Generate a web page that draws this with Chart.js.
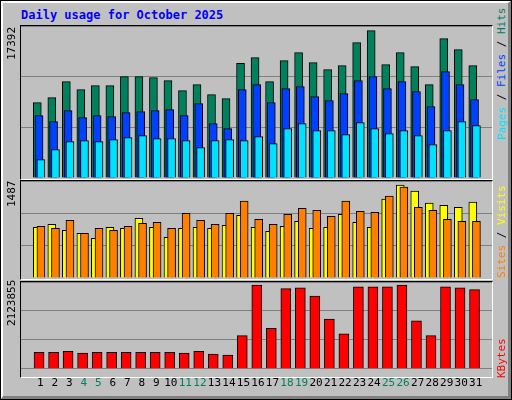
<!DOCTYPE html>
<html><head><meta charset="utf-8">
<script src="https://cdn.jsdelivr.net/npm/chart.js@4/dist/chart.umd.min.js"></script>
<style>
body{margin:0;background:#fff}
#wrap{position:relative;width:510px;height:398px;background:#C0C0C0;border:1px solid #000;overflow:hidden}
#wrap:before{content:"";position:absolute;left:0;top:0;right:0;bottom:0;border-top:2px solid #fff;border-left:2px solid #fff;border-right:3px solid #808080;border-bottom:3px solid #808080}
.cv{position:absolute}
.fr{position:absolute;border-left:1px solid #000;border-top:1px solid #000;border-right:1px solid #fff;border-bottom:1px solid #fff;box-sizing:border-box;pointer-events:none}
.t{position:absolute;font-family:"DejaVu Sans Mono",monospace;white-space:nowrap}
.rot{transform-origin:left top;transform:rotate(-90deg)}
</style></head><body>
<div id="wrap">
<div class="t" style="left:20px;top:7px;font-size:12px;font-weight:bold;color:#0000FF">Daily usage for October 2025</div>
<canvas id="c1" class="cv" style="left:20px;top:25px"></canvas>
<canvas id="c2" class="cv" style="left:20px;top:180px"></canvas>
<canvas id="c3" class="cv" style="left:20px;top:281px"></canvas>
<div class="fr" style="left:19px;top:24px;width:473px;height:155px"></div>
<div class="fr" style="left:19px;top:179px;width:473px;height:100px"></div>
<div class="fr" style="left:19px;top:280px;width:473px;height:97px"></div>
<div class="t rot" style="left:4px;top:59px;font-size:11px;color:#000">17392</div>
<div class="t rot" style="left:4px;top:206px;font-size:11px;color:#000">1487</div>
<div class="t rot" style="left:4px;top:325px;font-size:11px;color:#000">2123855</div>
<div class="t rot" style="left:494px;top:139px;font-size:11px"><span style="color:#00E0FF">Pages</span><span style="color:#000"> / </span><span style="color:#0040FF">Files</span><span style="color:#000"> / </span><span style="color:#00805C">Hits</span></div>
<div class="t rot" style="left:494px;top:277px;font-size:11px"><span style="color:#FF8000">Sites</span><span style="color:#000"> / </span><span style="color:#FFFF00">Visits</span></div>
<div class="t rot" style="left:494px;top:377px;font-size:11px;color:#FF0000">KBytes</div>
</div>
<script>
const days=[1,2,3,4,5,6,7,8,9,10,11,12,13,14,15,16,17,18,19,20,21,22,23,24,25,26,27,28,29,30,31];
const weekend=[4,5,11,12,18,19,25,26];
const hits=[8893,9483,11372,10428,10900,10900,11962,11962,11844,11490,10310,11018,9838,9365,13536,14205,11372,13851,14796,13615,12789,13261,15976,17392,13379,14796,13143,11018,16448,15150,13261];
const files=[7358,6650,7949,7122,7358,7240,7713,7831,7949,8067,7358,8775,6414,5824,10428,11018,8893,10546,10782,9601,9129,9956,11490,11962,10546,11372,10192,8421,12553,11018,9247];
const pages=[2164,3345,4289,4407,4289,4525,4761,4997,4643,4643,4407,3581,4407,4525,4407,4879,4053,5824,6414,5588,5588,5116,6532,5824,5234,5588,4997,3935,5588,6650,6178];
const visits=[811,859,763,714,634,811,795,956,811,650,795,811,795,843,1004,811,746,827,908,795,811,1020,891,811,1262,1487,1391,1198,1165,1133,1214];
const sites=[827,795,924,714,795,763,827,875,891,795,1036,924,859,1036,1230,940,859,1020,1117,1085,988,1230,1069,1053,1310,1455,1133,1085,940,908,908];
const kbytes=[420000,420000,443000,397000,420000,420000,420000,420000,420000,420000,397000,443000,373000,350000,840000,2123855,1027000,2031000,2054000,1844000,1260000,887000,2077000,2077000,2077000,2123855,1214000,840000,2077000,2054000,2007000];

function ds(vals,off,color,w,order){
  return {data:vals.map((v,i)=>({x:days[i]+off,y:v})),backgroundColor:color,borderColor:'#000',borderWidth:1,barThickness:w,grouped:false,borderSkipped:'bottom',order:order};
}
function make(id,w,h,sets,max,showX){
  const c=document.getElementById(id);c.width=w;c.height=h;
  return new Chart(c,{type:'bar',data:{datasets:sets},options:{
    responsive:false,animation:false,devicePixelRatio:1,
    layout:{padding:0},
    plugins:{legend:{display:false},tooltip:{enabled:false}},
    scales:{
      x:{type:'linear',min:0.2,max:31.6,display:showX,
        grid:{display:false,drawTicks:false},border:{display:false},
        afterBuildTicks:s=>{s.ticks=days.map(d=>({value:d}));},
        ticks:{autoSkip:false,maxRotation:0,padding:8,font:{family:'DejaVu Sans Mono',size:11},
          color:ctx=>weekend.includes(ctx.tick.value)?'#00805C':'#000',callback:v=>String(v)}},
      y:{min:0,max:max,display:true,
        afterBuildTicks:s=>{s.ticks=[0,max/3,2*max/3,max].map(v=>({value:v}));},
        afterFit:s=>{s.width=0;},
        ticks:{display:false},border:{display:false},
        grid:{color:'#808080',lineWidth:1,drawTicks:false}}
    }}});
}
make('c1',471,152,[ds(hits,-0.2,'#00805C',8,3),ds(files,-0.08,'#0040FF',8,2),ds(pages,0.05,'#00E0FF',8,1)],17947,false);
make('c2',471,97,[ds(visits,-0.2,'#FFFF00',8,2),ds(sites,0.05,'#FF8000',8,1)],1553,false);
make('c3',471,116,[ds(kbytes,-0.08,'#FF0000',10,1)],2200800,true);
</script>
</body></html>
